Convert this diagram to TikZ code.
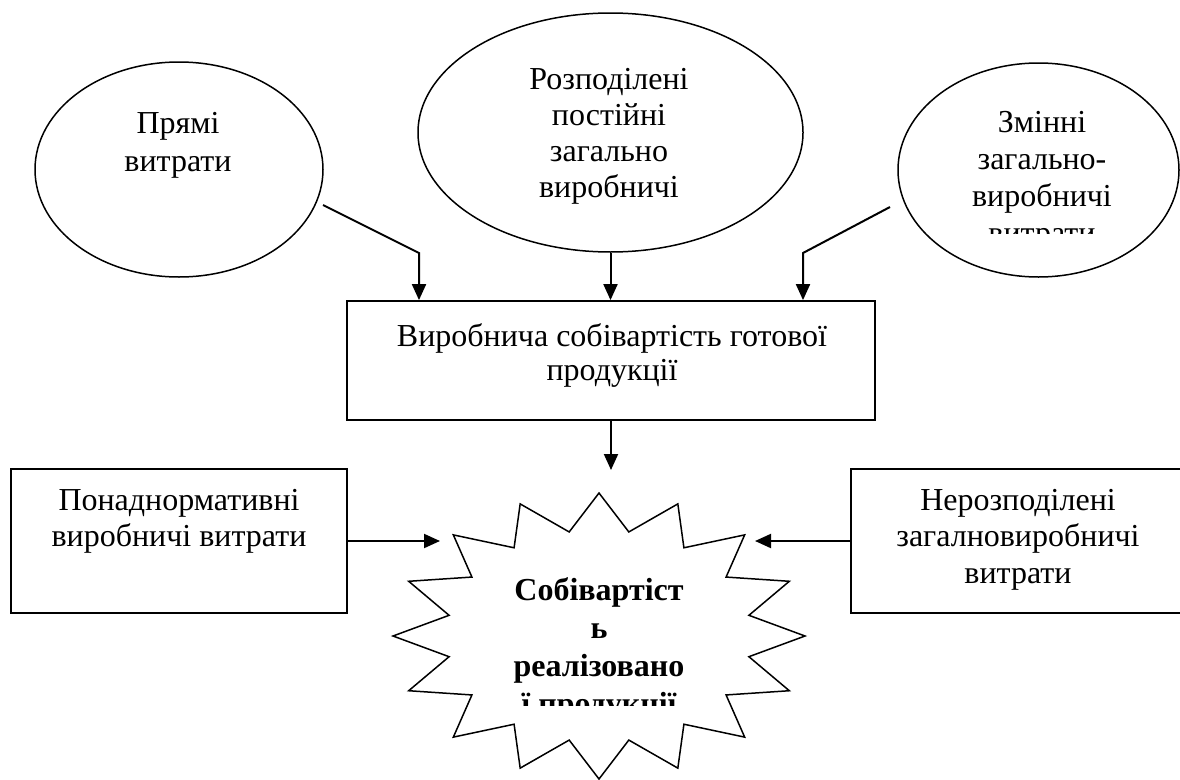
\documentclass[tikz,border=0pt]{standalone}
\usepackage{fontspec}
\setmainfont{Liberation Serif}
\usetikzlibrary{arrows.meta,shapes.geometric}

\begin{document}
\begin{tikzpicture}[x=1pt,y=-1pt,
  oval/.style={draw,ellipse,line width=1.5pt,inner sep=0pt},
  plainbox/.style={draw,rectangle,line width=1.8pt,inner sep=0pt},
  txt/.style={font=\fontsize{32}{37}\selectfont,align=center,anchor=base,inner sep=0pt},
  arr/.style={line width=2pt,-{Triangle[length=16pt,width=14pt]}},
]
\useasboundingbox (0,0) rectangle (1180,779);

% cost components on top (text nodes are placed by the baseline of their last line)
\node[oval,minimum width=288pt,minimum height=215pt] (e1) at (179,169.5) {};
\node[oval,minimum width=385pt,minimum height=239pt] (e2) at (610.5,132.5) {};
\node[oval,minimum width=281pt,minimum height=214pt] (e3) at (1038.5,170) {};

\node[txt,font=\fontsize{32}{38}\selectfont] (t1) at (178,171) {Прямі\\витрати};
\node[txt,font=\fontsize{32}{36}\selectfont] (t2) at (609,197) {Розподілені\\постійні\\загально\\виробничі};
\begin{scope}
  \clip (880,60) rectangle (1180,233);
  \node[txt] (t3) at (1042,243) {Змінні\\загально-\\виробничі\\витрати};
\end{scope}

% production cost box
\node[plainbox,minimum width=528pt,minimum height=119pt] (b) at (611,360.5) {};
\node[txt,font=\fontsize{32}{34}\selectfont] (tb) at (612,380) {Виробнича собівартість готової\\продукції};

% side boxes
\node[plainbox,minimum width=336pt,minimum height=144pt] (lb) at (179,541) {};
\node[txt,font=\fontsize{32}{36}\selectfont] (tl) at (179,546) {Понаднормативні\\виробничі витрати};
\node[plainbox,minimum width=336pt,minimum height=144pt] (rb) at (1019,541) {};
\node[txt,font=\fontsize{32}{36.5}\selectfont] (tr) at (1018,583) {Нерозподілені\\загалновиробничі\\витрати};

% cost of goods sold: sixteen-point star
\draw[line width=1.5pt] plot[samples at={0,...,31}]
  ({599+206*(1-0.258*isodd(\x))*sin(\x*11.25)},{636-143*(1-0.258*isodd(\x))*cos(\x*11.25)}) -- cycle;
\begin{scope}
  \clip (380,480) rectangle (820,705);
  \node[txt,font=\bfseries\fontsize{32}{38}\selectfont] (ts) at (599,714) {Собівартіст\\ь\\реалізовано\\ї продукції};
\end{scope}

% connectors
\coordinate (s1) at (323,205);
\coordinate (k1) at (419,253);
\coordinate (s3) at (890,207);
\coordinate (k3) at (803,253);
\coordinate (sTop) at (611,470);
\coordinate (sLeft) at (440,541);
\coordinate (sRight) at (755,541);

\draw[arr] (s1) -- (k1) -- (k1 |- b.north);
\draw[arr] (e2.south) -- (e2.south |- b.north);
\draw[arr] (s3) -- (k3) -- (k3 |- b.north);
\draw[arr] (b.south) -- (sTop);
\draw[arr] (lb.east) -- (sLeft);
\draw[arr] (rb.west) -- (sRight);
\end{tikzpicture}
\end{document}
